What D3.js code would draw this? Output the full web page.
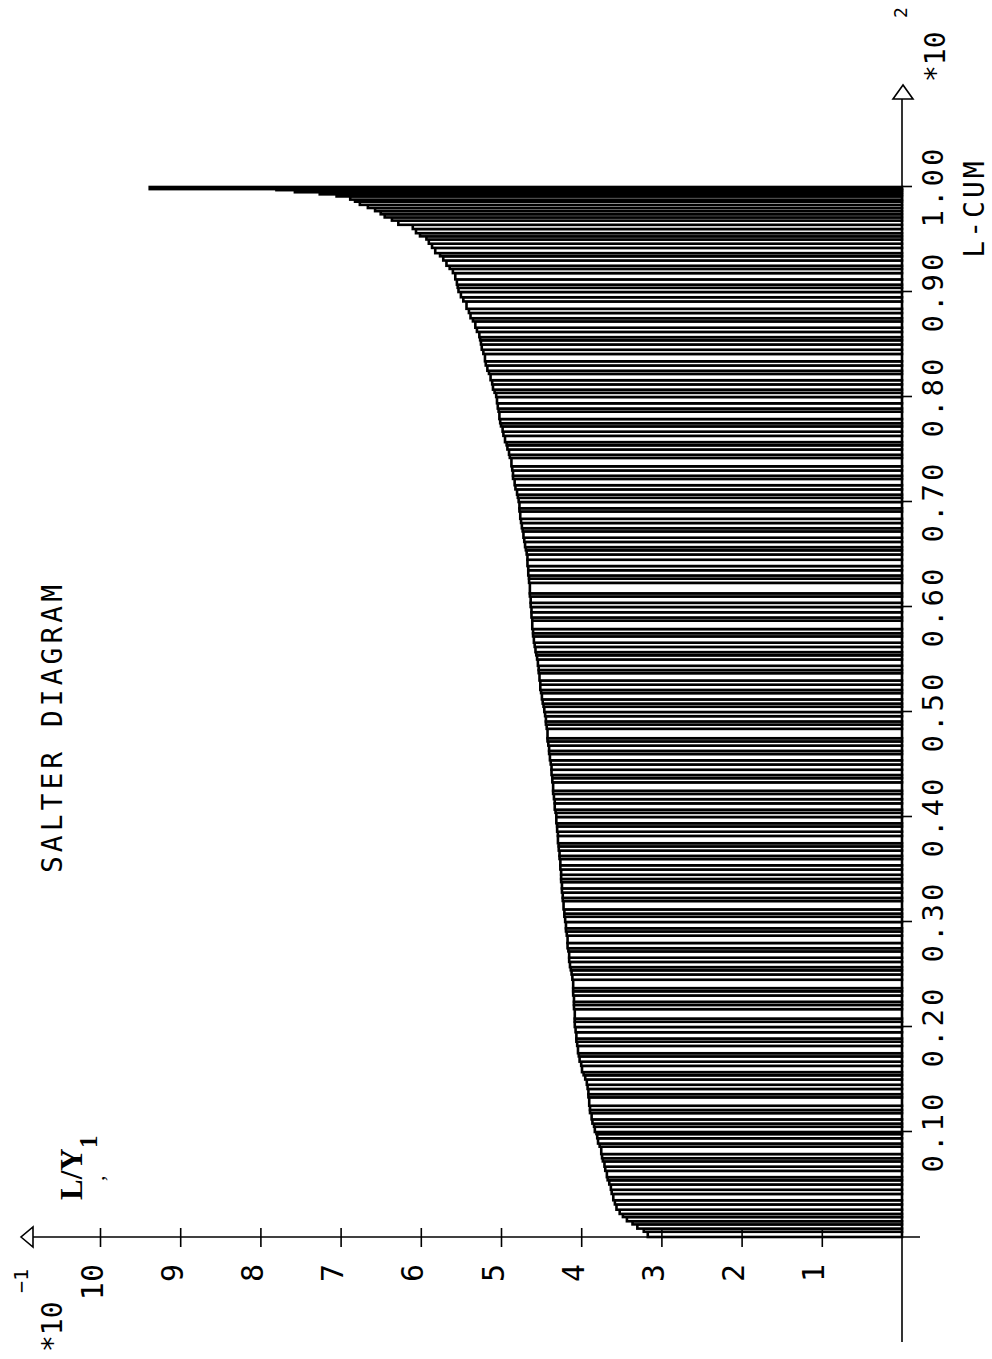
<!DOCTYPE html>
<html>
<head>
<meta charset="utf-8">
<script src="https://cdn.jsdelivr.net/npm/d3@7"></script>
<style>
  body { margin: 0; background: #fff; }
  svg { display: block; }
</style>
</head>
<body>
<script>
// Share of total labour held by each unit (per mille), units ordered by L/Y1
const laborShare = [
  5,3,4,3,4,3,4,5,4,6,4,5,
  4,3,6,4,5,3,4,7,3,5,4,2,
  5,3,4,6,3,4,8,3,5,4,5,
  4,3,6,4,5,3,7,4,3,6,5,
  5,3,9,4,3,6,4,3,8,5,
  4,3,5,4,6,3,5,7,4,3,6,
  5,3,4,8,3,5,4,6,3,4,5,
  4,6,3,5,4,3,7,4,5,3,6,
  4,3,6,4,5,3,8,4,3,5,5,
  4,6,3,5,4,3,9,4,3,5,4,
  5,3,4,6,3,5,4,7,3,4,6,
  4,3,5,4,6,3,4,8,3,5,5,
  4,6,3,10,4,3,5,4,6,5,
  4,3,5,4,6,3,5,4,7,3,6,
  4,3,5,4,6,3,5,4,8,3,5,
  4,3,6,4,5,3,4,7,3,5,6,
  4,3,5,4,6,3,5,4,7,4,5,
  4,3,5,4,6,3,5,4,7,4,5,
  4,3,5,6,4,3,5,4,3,5,4,4,
  3,3,4,4,4,3,3,3,3,3,3,2,3,2,2,2,1,2
];

// Labour per unit of output L/Y1 (x10^-1) for each unit
const laborPerOutput = [
  3.17,3.22,3.30,3.36,3.43,3.48,3.52,3.56,3.58,3.60,3.62,3.63,
  3.65,3.67,3.68,3.70,3.71,3.73,3.74,3.75,3.77,3.79,3.80,3.81,
  3.83,3.84,3.86,3.87,3.89,3.89,3.90,3.91,3.91,3.92,3.93,
  3.95,3.97,3.99,4.00,4.02,4.03,4.04,4.05,4.06,4.06,4.07,
  4.08,4.08,4.08,4.09,4.09,4.09,4.10,4.10,4.10,4.11,
  4.12,4.13,4.14,4.15,4.15,4.16,4.17,4.17,4.18,4.19,4.19,
  4.20,4.21,4.21,4.22,4.23,4.23,4.24,4.24,4.25,4.25,4.25,
  4.26,4.26,4.27,4.27,4.28,4.28,4.29,4.29,4.30,4.30,4.31,
  4.31,4.32,4.33,4.33,4.34,4.35,4.35,4.36,4.36,4.37,4.37,
  4.38,4.39,4.40,4.40,4.41,4.42,4.42,4.43,4.44,4.44,4.45,
  4.46,4.47,4.48,4.49,4.50,4.51,4.51,4.52,4.53,4.53,4.54,
  4.55,4.56,4.57,4.58,4.59,4.60,4.60,4.61,4.61,4.62,4.62,
  4.63,4.63,4.64,4.64,4.65,4.65,4.66,4.66,4.67,4.67,
  4.68,4.69,4.70,4.71,4.72,4.73,4.74,4.75,4.76,4.77,4.77,
  4.78,4.79,4.80,4.82,4.83,4.85,4.85,4.86,4.87,4.89,4.90,
  4.92,4.93,4.95,4.97,4.98,5.00,5.01,5.02,5.03,5.04,5.05,
  5.06,5.08,5.10,5.11,5.13,5.15,5.17,5.19,5.20,5.22,5.24,
  5.25,5.26,5.27,5.30,5.32,5.35,5.38,5.40,5.43,5.47,5.50,
  5.53,5.54,5.55,5.57,5.60,5.64,5.68,5.72,5.76,5.82,5.86,5.90,
  5.93,6.01,6.06,6.10,6.28,6.36,6.45,6.50,6.57,6.66,6.76,6.82,6.88,7.05,7.26,7.57,7.80,9.38
];

const cumTicks = [0.1, 0.2, 0.3, 0.4, 0.5, 0.6, 0.7, 0.8, 0.9, 1.0];
const cumTickLabels = ["0.10","0.20","0.30","0.40","0.50","0.60","0.70","0.80","0.90","1.00"];
const valueTicks = [1, 2, 3, 4, 5, 6, 7, 8, 9, 10];
const valueTickLabels = ["1","2","3","4","5","6","7","8","9","10"];

const W = 992, H = 1359;
const MONO = "'DejaVu Sans Mono', 'Liberation Mono', monospace";
const SERIF = "'Liberation Serif', 'DejaVu Serif', serif";

const svg = d3.select("body").append("svg")
  .attr("width", W).attr("height", H);
svg.append("rect").attr("width", W).attr("height", H).attr("fill", "#fff");

// The plot is laid out in a frame turned a quarter turn counter-clockwise:
// frame x runs up the page, frame y runs to the right.
const g = svg.append("g").attr("transform", `translate(0,${H}) rotate(-90)`);

const x = d3.scaleLinear().domain([0, 1]).range([122, 1172]);   // L-CUM
const y = d3.scaleLinear().domain([0, 10]).range([902, 100]);   // L/Y1

// cumulative bar positions
let acc = 0;
const bars = laborShare.map((s, i) => {
  const start = acc;
  acc += s / 1000;
  return { start, end: acc, value: laborPerOutput[i] };
});

g.append("g").attr("class", "bars")
  .selectAll("rect").data(bars).join("rect")
  .attr("x", d => x(d.start))
  .attr("width", d => x(d.end) - x(d.start))
  .attr("y", d => y(d.value))
  .attr("height", d => y(0) - y(d.value))
  .attr("fill", "#fff")
  .attr("stroke", "#000")
  .attr("stroke-width", 2.6);

// axis lines with open arrowheads
function line(x1, y1, x2, y2) {
  return g.append("line")
    .attr("x1", x1).attr("y1", y1).attr("x2", x2).attr("y2", y2)
    .attr("stroke", "#000").attr("stroke-width", 1.6);
}
function arrow(d) {
  return g.append("path").attr("d", d)
    .attr("fill", "#fff").attr("stroke", "#000").attr("stroke-width", 1.6);
}

line(17, y(0), 1260, y(0));
arrow(`M1274,${y(0) + 1}L1260,${y(0) - 9}L1260,${y(0) + 11}Z`);
line(x(0), 33, x(0), 920);
arrow(`M${x(0)},21L${x(0) - 10},33L${x(0) + 10},33Z`);

// L-CUM axis
const cumAxis = g.append("g")
  .attr("transform", `translate(0,${y(0)})`)
  .call(d3.axisBottom(x).tickValues(cumTicks)
    .tickFormat((d, i) => cumTickLabels[i])
    .tickSizeInner(10).tickSizeOuter(0));
cumAxis.select(".domain").remove();
cumAxis.selectAll(".tick line").attr("stroke", "#000").attr("stroke-width", 1.6);
cumAxis.selectAll(".tick text")
  .attr("y", 41).attr("dy", 0)
  .attr("fill", "#000")
  .style("font-family", MONO).style("font-size", "29px").style("letter-spacing", "3px");

// L/Y1 axis
const valAxis = g.append("g")
  .attr("transform", `translate(${x(0)},0)`)
  .call(d3.axisLeft(y).tickValues(valueTicks)
    .tickFormat((d, i) => valueTickLabels[i])
    .tickSizeInner(10).tickSizeOuter(0));
valAxis.select(".domain").remove();
valAxis.selectAll(".tick line").attr("x1", -10).attr("x2", 9)
  .attr("stroke", "#000").attr("stroke-width", 1.6);
valAxis.selectAll(".tick text")
  .attr("x", -27).attr("y", 2).attr("dy", 0)
  .attr("text-anchor", "end").attr("fill", "#000")
  .style("font-family", MONO).style("font-size", "30px");

// titles and scale factors
function label(txt, u, v, size, opts = {}) {
  return g.append("text")
    .attr("x", u).attr("y", v)
    .attr("text-anchor", opts.anchor || "start")
    .style("font-family", opts.font || MONO)
    .style("font-size", size + "px")
    .style("font-weight", opts.weight || "normal")
    .style("letter-spacing", (opts.spacing || 0) + "px")
    .attr("fill", "#000")
    .text(txt);
}

label("SALTER DIAGRAM", 632, 62, 28, { anchor: "middle", spacing: 4 });
label("L-CUM", 1151, 984, 28, { anchor: "middle", spacing: 3 });
label("*10", 1277, 945, 28);
label("2", 1341, 907, 18);
label("*10", 7, 62, 28);
label("\u22121", 66, 28, 20);
label("L/Y", 159, 82, 31, { font: SERIF, weight: "bold" });
label("1", 211, 97, 25, { font: SERIF, weight: "bold" });
label(",", 178, 104, 22, { font: SERIF });
</script>
</body>
</html>
